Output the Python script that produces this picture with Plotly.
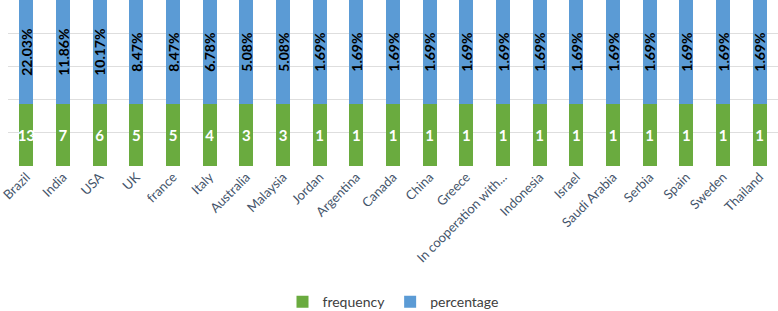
import plotly.graph_objects as go

countries = ["Brazil", "India", "USA", "UK", "france", "Italy", "Australia", "Malaysia",
             "Jordan", "Argentina", "Canada", "China", "Greece", "In cooperation with...",
             "Indonesia", "Israel", "Saudi Arabia", "Serbia", "Spain", "Sweden", "Thailand"]
frequency = [13, 7, 6, 5, 5, 4, 3, 3, 1, 1, 1, 1, 1, 1, 1, 1, 1, 1, 1, 1, 1]
percentage = [22.03, 11.86, 10.17, 8.47, 8.47, 6.78, 5.08, 5.08, 1.69, 1.69, 1.69, 1.69,
              1.69, 1.69, 1.69, 1.69, 1.69, 1.69, 1.69, 1.69, 1.69]

fig = go.Figure()
fig.add_trace(go.Bar(
    x=countries, y=frequency, name="frequency",
    marker=dict(color="#6aab3f", line=dict(width=0)),
    text=[str(v) for v in frequency], textposition="inside",
    insidetextanchor="middle", constraintext="none",
    textfont=dict(family="Lato", size=15, color="white", weight="bold"),
))
fig.add_trace(go.Bar(
    x=countries, y=percentage, name="percentage",
    marker=dict(color="#5b9bd5", line=dict(width=0)),
    text=[f"{v:.2f}%" for v in percentage], textposition="inside",
    insidetextanchor="middle", constraintext="none", textangle=-90,
    textfont=dict(family="Lato", size=14, color="black", weight="bold"),
))

fig.update_layout(
    barmode="stack", barnorm="percent", bargap=0.62,
    width=778, height=311,
    margin=dict(l=8, r=0, t=0, b=145, autoexpand=False),
    paper_bgcolor="white", plot_bgcolor="white",
    font=dict(family="Lato", color="#4b5563"),
    legend=dict(orientation="h", x=0.5, xanchor="center", y=-0.82, yanchor="middle",
                font=dict(size=14, color="#404040"), traceorder="normal",
                itemwidth=30, itemsizing="constant"),
    xaxis=dict(tickangle=-45, tickfont=dict(size=13, color="#44546a"),
               showline=False, ticks="", automargin=False),
    yaxis=dict(range=[0, 100], dtick=20, showticklabels=False, showgrid=True,
               gridcolor="#dedede", zeroline=False, showline=False, automargin=False),
)

fig.write_html("out.html", config={"displayModeBar": False},
               post_script="document.body.style.margin='0';")
